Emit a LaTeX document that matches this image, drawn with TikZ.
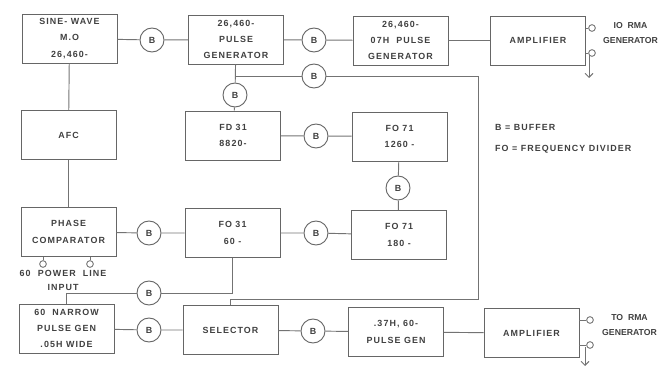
\documentclass[tikz,border=0pt]{standalone}
\usepackage{fontspec}
\setmainfont{Liberation Sans}
\newfontfamily\lettering[LetterSpace=12]{Liberation Sans}
\usepackage{tikz}
\usetikzlibrary{arrows.meta, positioning, calc}

\begin{document}
\begin{tikzpicture}[
    x=0.03cm, y=-0.03cm,
    wire/.style={draw=black!55, line width=0.8pt},
    block/.style={
        rectangle, draw=black!60, line width=0.8pt,
        minimum width=2.85cm, minimum height=1.47cm, align=center,
        font=\lettering\bfseries\fontsize{7.6}{14}\selectfont, text=black!75, inner sep=1pt
    },
    buf/.style={
        circle, draw=black!60, line width=0.8pt, minimum size=0.72cm,
        inner sep=0pt, font=\lettering\bfseries\fontsize{7.6}{9}\selectfont, text=black!75
    },
    term/.style={circle, draw=black!60, line width=0.7pt, minimum size=0.2cm, inner sep=0pt},
    lbl/.style={font=\lettering\bfseries\fontsize{7.6}{12}\selectfont, text=black!75, align=center},
    outlbl/.style={font=\bfseries\fontsize{7.4}{12}\selectfont, text=black!75, align=center, inner sep=0pt},
]
\useasboundingbox (0,0) rectangle (664,368);

% ── Top row ──
\node[block] (mo)     at (69.5,38.5)  {SINE- WAVE\\M.O\\26,460-};
\node[buf]   (b1)     at (152,40)     {B};
\node[block] (pgen)   at (236,39.5)   {26,460-\\PULSE\\GENERATOR};
\node[buf]   (b2)     at (314,40)     {B};
\node[block] (pgen07) at (400.5,40.5) {26,460-\\07H\ \ PULSE\\GENERATOR};
\node[block] (amp1)   at (538,40.5)   {AMPLIFIER};

% ── Divider chain ──
\node[buf]   (b3)     at (235,95)     {B};
\node[buf]   (b4)     at (314,76)     {B};
\node[block] (afc)    at (68.5,135)   {AFC};
\node[block] (fd8820) at (233,135.5)  {FD 31\\8820-};
\node[buf]   (b5)     at (316,136)    {B};
\node[block] (fo1260) at (399.5,136.5){FO 71\\1260 -};
\node[buf]   (b6)     at (398,188)    {B};
\node[block] (phase)  at (68.5,232)   {PHASE\\COMPARATOR};
\node[buf]   (b8)     at (149,233)    {B};
\node[block] (fo60)   at (232.5,233)  {FO 31\\60 -};
\node[buf]   (b7)     at (316,233)    {B};
\node[block] (fo180)  at (399,235)    {FO 71\\180 -};

% ── Bottom row ──
\node[buf]   (b9)     at (149,293)    {B};
\node[block] (narrow) at (66.5,328.5) {60\ \ NARROW\\PULSE GEN\\.05H WIDE};
\node[buf]   (b10)    at (149,330)    {B};
\node[block] (sel)    at (230.5,330)  {SELECTOR};
\node[buf]   (b11)    at (313,331)    {B};
\node[block] (pgen37) at (396,332)    {.37H, 60-\\PULSE GEN};
\node[block] (amp2)   at (531.5,333)  {AMPLIFIER};

% ── Legend ──
\node[lbl, anchor=west] (legb)  at (491,127) {B = BUFFER};
\node[lbl, anchor=west] (legfd) at (491,149) {FO = FREQUENCY DIVIDER};

% ── Connections ──
\draw[wire] (mo) -- (b1) -- (pgen) -- (b2) -- (pgen07) -- (amp1);
\draw[wire] (mo) -- (afc) -- (phase);
\draw[wire] (pgen) -- (b3) -- (fd8820);
\coordinate (j1) at (b3 |- b4);
\draw[wire] (j1) -- (b4);
\coordinate (c1) at (478,76);
\coordinate (c2) at (478,299);
\coordinate (c3) at (sel.north |- c2);
\draw[wire] (b4) -- (c1) -- (c2) -- (c3) -- (sel.north);
\draw[wire] (fd8820) -- (b5) -- (fo1260) -- (b6) -- (fo180) -- (b7) -- (fo60);
\draw[wire] (phase) -- (b8) -- (fo60);
\coordinate (c4) at (fo60.south |- b9);
\coordinate (c5) at (narrow.north |- b9);
\draw[wire] (fo60.south) -- (c4) -- (b9) -- (c5) -- (narrow.north);
\draw[wire] (narrow) -- (b10) -- (sel) -- (b11) -- (pgen37) -- (amp2);

% ── Power line input ──
\node[term] (pl1) at (43,264) {};
\node[term] (pl2) at (90,264) {};
\draw[wire] (pl1.north) -- (pl1.north |- phase.south);
\draw[wire] (pl2.north) -- (pl2.north |- phase.south);
\node[lbl] (plin) at (63,280) {60\ \ POWER\ \ LINE\\INPUT};

% ── Output terminals ──
\node[term] (t1) at (592,28) {};
\node[term] (t2) at (592,53) {};
\draw[wire] (t1) -- (t1 -| amp1.east);
\draw[wire] (t2) -- (t2 -| amp1.east);
\coordinate (g1) at (589,78);
\draw[wire, -{Straight Barb[length=1.2mm]}] (589,55) -- (g1);
\node[outlbl, anchor=west] (out1) at (603,33) {IO\ \ RMA\\GENERATOR};

\node[term] (t3) at (590,320) {};
\node[term] (t4) at (590,345) {};
\draw[wire] (t3) -- (t3 -| amp2.east);
\draw[wire] (t4) -- (t4 -| amp2.east);
\coordinate (g2) at (585,366);
\draw[wire, -{Straight Barb[length=1.2mm]}] (585,347) -- (g2);
\node[outlbl, anchor=west] (out2) at (602,325) {TO\ \ RMA\\GENERATOR};

\end{tikzpicture}
\end{document}
